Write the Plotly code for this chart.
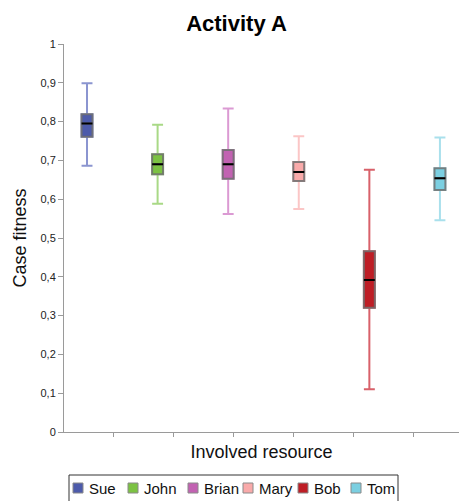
import plotly.graph_objects as go

# Case fitness summary per resource (box-plot statistics)
resources = ["Sue", "John", "Brian", "Mary", "Bob", "Tom"]
lower_whisker = [0.686, 0.588, 0.562, 0.575, 0.110, 0.546]
q1_values = [0.761, 0.664, 0.653, 0.647, 0.320, 0.624]
median_values = [0.795, 0.690, 0.690, 0.670, 0.392, 0.654]
q3_values = [0.819, 0.716, 0.727, 0.696, 0.466, 0.680]
upper_whisker = [0.899, 0.792, 0.834, 0.762, 0.676, 0.759]

fill_colors = ["#4d5bab", "#7cc243", "#c262b2", "#f9aaaa", "#be1d25", "#7bcfe1"]
whisker_colors = ["#8b95d0", "#a9d986", "#db9ad3", "#fbc6c6", "#d8616a", "#a9e0ec"]

FONT = "Liberation Sans, Arial, sans-serif"
BOX_W = 0.155
BOX_EDGE = "rgba(110,110,110,0.85)"

fig = go.Figure()

for i, name in enumerate(resources):
    # whiskers and caps
    fig.add_trace(go.Box(
        x=[i], q1=[q1_values[i]], median=[median_values[i]], q3=[q3_values[i]],
        lowerfence=[lower_whisker[i]], upperfence=[upper_whisker[i]],
        width=BOX_W, whiskerwidth=1, line=dict(color=whisker_colors[i], width=2),
        fillcolor="rgba(0,0,0,0)", showlegend=False, hoverinfo="skip",
    ))
    # inter-quartile body
    fig.add_trace(go.Box(
        x=[i], q1=[q1_values[i]], median=[median_values[i]], q3=[q3_values[i]],
        lowerfence=[q1_values[i]], upperfence=[q3_values[i]],
        width=BOX_W, whiskerwidth=0, line=dict(color=BOX_EDGE, width=2),
        fillcolor=fill_colors[i], showlegend=False, name=name,
    ))
    # median line
    fig.add_trace(go.Box(
        x=[i], q1=[median_values[i]], median=[median_values[i]], q3=[median_values[i]],
        lowerfence=[median_values[i]], upperfence=[median_values[i]],
        width=BOX_W, whiskerwidth=0, line=dict(color="#000000", width=2),
        fillcolor="rgba(0,0,0,0)", showlegend=False, hoverinfo="skip",
    ))

# plot area geometry in pixels (used to place the legend frame)
L, T, W, H = 64, 44, 395, 388


def px_x(p):
    return (p - L) / W


def px_y(p):
    return (T + H - p) / H


shapes = [dict(type="rect", xref="paper", yref="paper",
               x0=px_x(69), x1=px_x(398), y0=px_y(475), y1=px_y(504),
               line=dict(color="#333333", width=1), fillcolor="white", layer="above")]
annotations = []
legend_left = [73, 128, 188, 243, 298, 351]
for name, color, lx in zip(resources, fill_colors, legend_left):
    shapes.append(dict(type="rect", xref="paper", yref="paper",
                       x0=px_x(lx), x1=px_x(lx + 10), y0=px_y(493), y1=px_y(483),
                       line=dict(color="#8a8a8a", width=1), fillcolor=color, layer="above"))
    annotations.append(dict(xref="paper", yref="paper", x=px_x(lx + 14), y=px_y(488.5),
                            xanchor="left", yanchor="middle", showarrow=False,
                            text=name, font=dict(family=FONT, size=15, color="#111111")))

tick_pos = [0.382 + 0.85 * k for k in range(6)]

fig.update_layout(
    width=459, height=501,
    margin=dict(l=L, r=459 - L - W, t=T, b=501 - T - H),
    paper_bgcolor="white", plot_bgcolor="white",
    separators=", ",
    showlegend=False,
    boxmode="overlay",
    title=dict(text="<b>Activity A</b>", x=236.5 / 459, xref="container", xanchor="center",
               y=1 - 23 / 501, yanchor="middle",
               font=dict(family=FONT, size=22, color="#000000")),
    xaxis=dict(range=[-0.326, 5.27], showgrid=False, zeroline=False,
               showline=True, linecolor="#9a9a9a", linewidth=1,
               tickmode="array", tickvals=tick_pos, ticktext=[""] * 6,
               ticks="outside", ticklen=4, tickcolor="#9a9a9a",
               title=dict(text="Involved resource", standoff=6,
                          font=dict(family=FONT, size=18, color="#111111"))),
    yaxis=dict(range=[0, 1], dtick=0.1, tick0=0, showgrid=False, zeroline=False,
               showline=True, linecolor="#9a9a9a", linewidth=1,
               ticks="outside", ticklen=5, tickcolor="#9a9a9a",
               tickfont=dict(family=FONT, size=11, color="#222222"),
               title=dict(text="Case fitness", standoff=9,
                          font=dict(family=FONT, size=18, color="#111111"))),
    shapes=shapes,
    annotations=annotations,
)

fig.write_html("out.html")
